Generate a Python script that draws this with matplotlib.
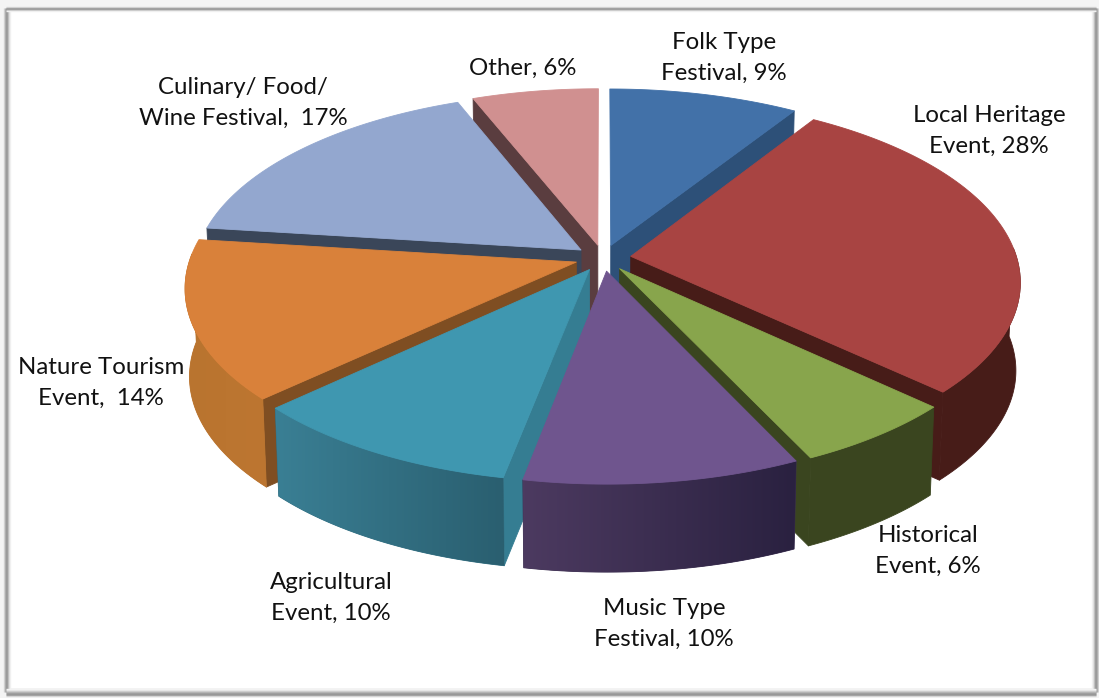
import matplotlib
matplotlib.use('Agg')
import matplotlib.pyplot as plt
from matplotlib.colors import to_rgb
from matplotlib.patches import Polygon
import numpy as np

plt.rcParams['font.family'] = ['Lato', 'DejaVu Sans']

# clockwise from 12 o'clock
names = ['Folk Type\nFestival, 9%', 'Local Heritage\nEvent, 28%', 'Historical\nEvent, 6%',
         'Music Type\nFestival, 10%', 'Agricultural\nEvent, 10%', 'Nature Tourism\nEvent,  14%',
         'Culinary/ Food/\nWine Festival,  17%', 'Other, 6%']
values = [9, 28, 6, 10, 10, 14, 17, 6]

top_colors = ['#4271a8', '#a84442', '#88a54c', '#6f558e', '#3f97b0', '#d9813a', '#93a7cf', '#d09090']
cut_colors = ['#2d5078', '#471c18', '#3a451f', '#4a3a60', '#357d92', '#7f4e22', '#3a4659', '#5a3d3f']
wall_left = ['#2d5078', '#471c18', '#3a451f', '#4c3a60', '#3a7f94', '#b9742f', '#3a4659', '#5a3d3f']
wall_right = ['#2d5078', '#471c18', '#3a451f', '#2a2140', '#2a5f70', '#bd7631', '#3a4659', '#5a3d3f']
label_x = [724, 989, 928, 664, 331, 101, 243, 523]
label_y = [58, 131, 551, 624, 598, 383, 103, 68]

# pie geometry in pixels
cx, cy = 603, 258
R, squash, depth = 386, 0.468, 0.134
explode, H = 28, 88
taper = 0.00012


def project(u, v, z=0.0):
    # u right, v towards the back, both in pie radii; z is drop in px
    p = 1 / (1 + depth * v)
    return cx + R * u * p * (1 - taper * z), cy - R * squash * v * p + z


fig = plt.figure(figsize=(10.99, 6.98), dpi=100)
ax = fig.add_axes([0, 0, 1, 1])
ax.axis('off')

layer = [10]


def fill(xs, ys, color):
    layer[0] += 1
    ax.fill(xs, ys, facecolor=color, edgecolor=color, lw=0.6, joinstyle='round', zorder=layer[0])


# frame with soft shadow
fig.patch.set_facecolor('white')
ax.fill([0, 1099, 1099, 0], [0, 0, 698, 698], color='#f4f4f4', lw=0)
ax.fill([9, 1094, 1094, 9], [10, 10, 688, 688], color='white', lw=0)
for i, g in enumerate(['#d8d8d8', '#b4b4b4', '#9a9a9a', '#9a9a9a', '#b8b8b8', '#dcdcdc', '#f0f0f0']):
    ax.plot([4 + i, 4 + i], [8, 692], color=g, lw=1, solid_capstyle='butt')
    ax.plot([1098 - i, 1098 - i], [8, 692], color=g, lw=1, solid_capstyle='butt')
for i, g in enumerate(['#dcdcdc', '#a4a4a4', '#969696', '#c4c4c4', '#f0f0f0']):
    ax.plot([6, 1096], [7 + i, 7 + i], color=g, lw=1, solid_capstyle='butt')
for i, g in enumerate(['#e0e0e0', '#a8a8a8', '#969696', '#9c9c9c', '#b0b0b0', '#c8c8c8', '#e4e4e4', '#f2f2f2']):
    ax.plot([6, 1096], [696 - i, 696 - i], color=g, lw=1, solid_capstyle='butt')

fractions = np.array(values) / sum(values)
ends = np.cumsum(fractions) * 2 * np.pi
starts = ends - fractions * 2 * np.pi
mids = (starts + ends) / 2

# paint from the back of the pie to the front
for i in np.argsort(-np.cos(mids)):
    a0, a1 = starts[i], ends[i]
    ou, ov = explode / R * np.sin(mids[i]), explode / R * np.cos(mids[i])
    t = np.linspace(a0, a1, max(int((a1 - a0) * 150), 4))
    rim_u, rim_v = ou + np.sin(t), ov + np.cos(t)

    # radial cut faces that look towards the viewer
    for a, normal in ((a0, a0 - np.pi / 2), (a1, a1 + np.pi / 2)):
        if np.cos(normal) < 0:
            eu, ev = ou + np.sin(a), ov + np.cos(a)
            xa, ya = project(ou, ov)
            xb, yb = project(eu, ev)
            xc, yc = project(eu, ev, H)
            xd, yd = project(ou, ov, H)
            fill([xa, xb, xc, xd], [ya, yb, yc, yd], cut_colors[i])

    # outer wall, shaded left to right
    front = np.cos(t) <= 0.05
    if front.sum() > 1:
        tx, ty = project(rim_u[front], rim_v[front])
        bx, by = project(rim_u[front], rim_v[front], H)
        wx, wy = np.r_[tx, bx[::-1]], np.r_[ty, by[::-1]]
        c0, c1 = np.array(to_rgb(wall_left[i])), np.array(to_rgb(wall_right[i]))
        fill(wx, wy, tuple((c0 + c1) / 2))
        if wall_left[i] != wall_right[i]:
            layer[0] += 1
            grad = np.linspace(c0, c1, 64)[None, :, :]
            im = ax.imshow(grad, extent=[wx.min(), wx.max(), wy.max(), wy.min()], aspect='auto',
                           interpolation='bilinear', zorder=layer[0])
            im.set_clip_path(Polygon(np.c_[wx, wy], transform=ax.transData))

    # top face
    xs, ys = project(np.r_[ou, rim_u], np.r_[ov, rim_v])
    fill(xs, ys, top_colors[i])

layer[0] += 1
for name, x, y in zip(names, label_x, label_y):
    ax.text(x, y, name, ha='center', va='center', fontsize=17.3, color='#111111', linespacing=1.54,
            zorder=layer[0])

ax.set_xlim(0, 1099)
ax.set_ylim(698, 0)
fig.savefig('out.png', dpi=100)
